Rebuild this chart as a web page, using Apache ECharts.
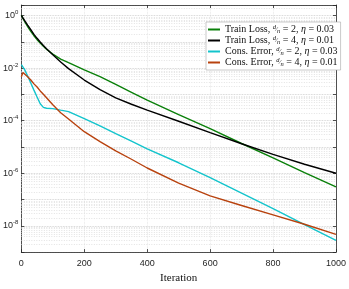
<!DOCTYPE html>
<html><head><meta charset="utf-8">
<script src="https://cdn.jsdelivr.net/npm/echarts@6/dist/echarts.min.js"></script>
<style>html,body{margin:0;padding:0;background:#fff}#c{width:349px;height:289px}</style>
</head><body><div id="c"></div>
<script>
// ---- data ----
const iters = [0,5,10,20,30,40,50,60,70,80,100,125,150,200,250,300,350,400,500,600,700,800,900,1000];
const trainLossD2 = [1.0,0.78,0.60,0.38,0.25,0.17,0.12,0.089,0.068,0.052,0.034,0.022,0.016,0.0085,0.0047,0.0024,0.0012,6.0e-4,1.7e-4,5.0e-5,1.35e-5,3.8e-6,1.05e-6,3.0e-7];
const trainLossD4 = [1.0,0.80,0.65,0.43,0.29,0.19,0.135,0.098,0.072,0.054,0.032,0.017,0.0095,0.0035,0.0015,7.4e-4,4.2e-4,2.5e-4,9.5e-5,3.5e-5,1.32e-5,5.2e-6,2.2e-6,1.0e-6];
const consErrD2 = [0.0135,0.012,0.0089,0.0050,0.0027,0.00145,7.9e-4,4.4e-4,3.2e-4,2.95e-4,2.85e-4,2.5e-4,2.2e-4,1.2e-4,6.3e-5,3.2e-5,1.66e-5,8.5e-6,2.5e-6,6.8e-7,1.74e-7,4.5e-8,1.12e-8,2.8e-9];
const consErrD4 = [0.0047,0.0068,0.0063,0.0047,0.0035,0.0025,0.0019,0.00135,0.001,7.4e-4,4.0e-4,2.0e-4,1.15e-4,3.8e-5,1.58e-5,7.1e-6,3.4e-6,1.58e-6,4.2e-7,1.38e-7,5.9e-8,2.6e-8,1.15e-8,4.7e-9];
const seriesNames = [
  'Train Loss, d/n = 2, η = 0.03',
  'Train Loss, d/n = 4, η = 0.01',
  'Cons. Error, d/n = 2, η = 0.03',
  'Cons. Error, d/n = 4, η = 0.01'
];
const xTicks = [0,200,400,600,800,1000];
const yLabelExponents = [0,-2,-4,-6,-8];
const xTitle = 'Iteration';

// ---- chart ----
const sans = '"Liberation Sans", Arial, Helvetica, sans-serif';
const serif = '"Liberation Serif", "Times New Roman", serif';
const colors = ['#0a800a', '#000000', '#13c4cc', '#b8420e'];
const yMin = 1e-9, yMax = 2.5;

const legendRich = {
  fu: {fontSize: 6.5, fontFamily: serif, fontStyle: 'italic', verticalAlign: 'top', lineHeight: 11},
  fs: {fontSize: 6.5, fontFamily: serif, lineHeight: 11},
  fd: {fontSize: 6.5, fontFamily: serif, fontStyle: 'italic', verticalAlign: 'bottom', lineHeight: 11},
  it: {fontSize: 10, fontFamily: serif, fontStyle: 'italic', lineHeight: 11},
  t: {fontSize: 10, fontFamily: serif, lineHeight: 11}
};
function legendText(name) {
  const m = name.match(/^(.*), d\/n = (\d+), η = ([\d.]+)$/);
  return '{t|' + m[1] + ', }{fu|d}{fs|⁄}{fd|n}{t| = ' + m[2] + ', }{it|η}{t| = ' + m[3] + '}';
}

// minor grid positions (2..9 in each decade)
const minorVals = [];
for (let n = -9; n <= 0; n++) {
  for (let k = 2; k <= 9; k++) {
    const v = k * Math.pow(10, n);
    if (v < yMax) minorVals.push(v);
  }
}

function pairs(arr) { return iters.map((x, i) => [x, arr[i]]); }
const allData = [trainLossD2, trainLossD4, consErrD2, consErrD4];

const series = allData.map((d, i) => ({
  name: seriesNames[i],
  type: 'line',
  data: pairs(d),
  showSymbol: false,
  smooth: false,
  lineStyle: {color: colors[i], width: 1.4},
  itemStyle: {color: colors[i]},
  z: 3 + i
}));
series.unshift({
  name: 'minorGrid',
  type: 'custom',
  silent: true,
  z: 1,
  data: minorVals.map(v => [xTicks[0], v]),
  encode: {x: 0, y: 1},
  clip: false,
  renderItem: function (params, api) {
    const p = api.coord([api.value(0), api.value(1)]);
    const cs = params.coordSys;
    return {
      type: 'line',
      shape: {x1: cs.x, y1: Math.round(p[1]) + 0.5, x2: cs.x + cs.width, y2: Math.round(p[1]) + 0.5},
      style: {stroke: '#dcdcdc', lineWidth: 0.8, lineDash: [1, 1.5]}
    };
  }
});

function yLabel(v) {
  const l = Math.log10(v);
  const e = Math.round(l);
  if (Math.abs(l - e) > 1e-6 || yLabelExponents.indexOf(e) < 0) return '';
  return '{b|10}{s|' + e + '}';
}

const axisColor = '#262626';
const option = {
  animation: false,
  backgroundColor: '#ffffff',
  grid: {left: 19, right: 10, top: 5, bottom: 35, show: false},
  legend: {
    orient: 'vertical', left: 206, top: 22,
    itemWidth: 12, itemHeight: 2, itemGap: 0,
    padding: [2, 3, 2, 2],
    icon: 'rect',
    backgroundColor: '#ffffff', borderColor: '#a6a6a6', borderWidth: 0.6, borderRadius: 0,
    textStyle: {fontFamily: serif, fontSize: 10, color: '#111', lineHeight: 11, rich: legendRich},
    formatter: legendText,
    data: seriesNames
  },
  xAxis: [{
    type: 'value', min: xTicks[0], max: xTicks[xTicks.length - 1], interval: xTicks[1] - xTicks[0],
    position: 'bottom',
    axisLine: {show: true, onZero: false, lineStyle: {color: axisColor, width: 0.8}},
    axisTick: {show: true, inside: true, length: 3, lineStyle: {color: axisColor, width: 0.8}},
    axisLabel: {margin: 7, fontSize: 9, fontFamily: sans, color: axisColor, formatter: v => String(v)},
    splitLine: {show: true, lineStyle: {color: '#dedede', type: 'dotted', width: 0.7}},
    name: xTitle, nameLocation: 'middle', nameGap: 20,
    nameTextStyle: {fontFamily: serif, fontSize: 11, color: '#111'}
  }, {
    type: 'value', min: xTicks[0], max: xTicks[xTicks.length - 1], interval: xTicks[1] - xTicks[0],
    position: 'top',
    axisLine: {show: true, onZero: false, lineStyle: {color: axisColor, width: 0.8}},
    axisTick: {show: true, inside: true, length: 3, lineStyle: {color: axisColor, width: 0.8}},
    axisLabel: {show: false}, splitLine: {show: false}
  }],
  yAxis: [{
    type: 'log', logBase: 10, min: yMin, max: yMax, splitNumber: 10,
    position: 'left',
    axisLine: {show: true, onZero: false, lineStyle: {color: axisColor, width: 0.8}},
    axisTick: {show: true, inside: true, length: 3, lineStyle: {color: axisColor, width: 0.8}},
    axisLabel: {
      margin: 3, formatter: yLabel,
      rich: {
        b: {fontSize: 9, fontFamily: sans, color: axisColor},
        s: {fontSize: 6, fontFamily: sans, color: axisColor, verticalAlign: 'top', lineHeight: 12}
      }
    },
    splitLine: {show: true, lineStyle: {color: '#c8c8c8', type: 'dotted', width: 0.8}}
  }, {
    type: 'log', logBase: 10, min: yMin, max: yMax, splitNumber: 10,
    position: 'right',
    axisLine: {show: true, onZero: false, lineStyle: {color: axisColor, width: 0.8}},
    axisTick: {show: true, inside: true, length: 3, lineStyle: {color: axisColor, width: 0.8}},
    axisLabel: {show: false}, splitLine: {show: false}
  }],
  series: series
};

const chart = echarts.init(document.getElementById('c'), null, {renderer: 'canvas'});
chart.setOption(option);
</script>
</body></html>
